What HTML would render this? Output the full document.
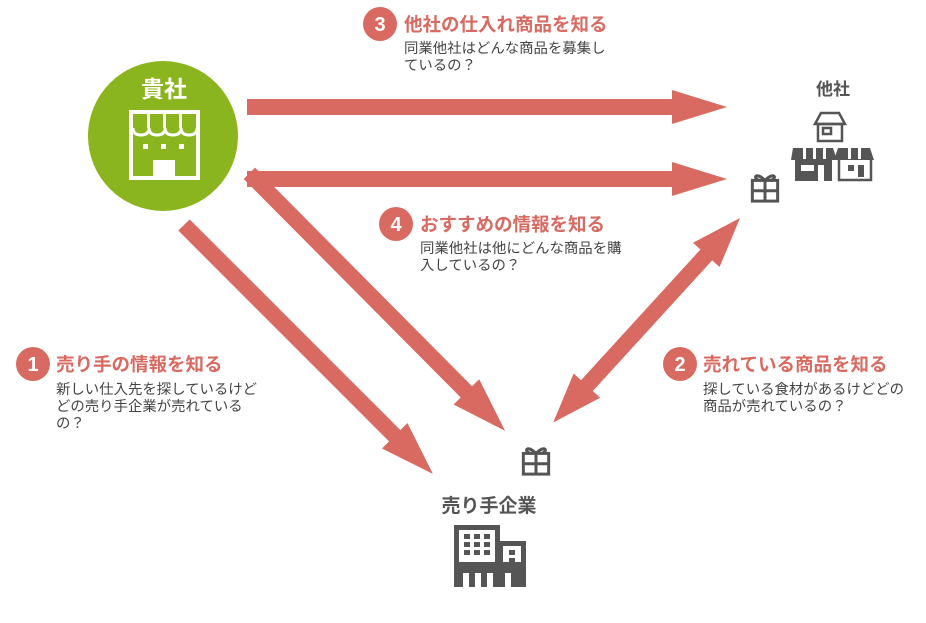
<!DOCTYPE html>
<html><head><meta charset="utf-8"><style>
body{margin:0;background:#fff;width:926px;height:618px;overflow:hidden}
svg text{font-family:"Liberation Sans","Noto Sans CJK JP",sans-serif}
</style></head><body>
<svg width="926" height="618" viewBox="0 0 926 618" xmlns="http://www.w3.org/2000/svg">
<defs>
<g id="gift" fill="none" stroke="#555" stroke-width="2.6">
<rect x="-11" y="-4" width="22" height="18"/>
<line x1="0" y1="-4" x2="0" y2="14"/>
<line x1="-11" y1="5" x2="11" y2="5"/>
<path d="M0 -4 C-8 -12 -11 -6 -5 -4 M0 -4 C8 -12 11 -6 5 -4"/>
</g>
</defs>
<g fill="#d96a61">
<rect x="247" y="99" width="430" height="16"/>
<polygon points="672,90 727,107 672,124"/>
<rect x="247" y="171" width="430" height="16"/>
<polygon points="672,162 727,179 672,196"/>
<g transform="translate(255,179) rotate(45.2)">
<rect x="-8" y="-8" width="310" height="16"/>
<polygon points="300,-18 355,0 300,18"/>
</g>
<g transform="translate(184,225) rotate(45)">
<rect x="0" y="-8" width="300" height="16"/>
<polygon points="298,-18 352,0 298,18"/>
</g>
<g transform="translate(740,218) rotate(132.4)">
<rect x="45" y="-8" width="190" height="16"/>
<polygon points="50,-18 0,0 50,18"/>
<polygon points="227,-18 277,0 227,18"/>
</g>
</g>
<circle cx="163" cy="136" r="75" fill="#8ab51e"/>
<text x="164" y="97" font-size="23" font-weight="bold" fill="#fff" text-anchor="middle">貴社</text>
<g fill="none" stroke="#fff" stroke-width="4">
<rect x="131" y="112" width="67" height="66"/>
<path d="M133 128 q0 7 8 7 q8 0 8 -7 q0 7 8 7 q8 0 8 -7 q0 7 8 7 q8 0 8 -7 q0 7 8 7 q8 0 8 -7" stroke-width="3"/>
</g>
<g fill="#fff">
<rect x="147" y="114" width="3" height="14"/><rect x="163" y="114" width="3" height="14"/><rect x="179" y="114" width="3" height="14"/>
<rect x="143" y="144" width="5" height="5"/><rect x="161" y="144" width="5" height="5"/><rect x="179" y="144" width="5" height="5"/>
<rect x="153" y="160" width="22" height="18"/>
</g>
<text x="833" y="95" font-size="17" font-weight="bold" fill="#555" text-anchor="middle">他社</text>
<g fill="none" stroke="#555" stroke-width="2.5">
<path d="M815 124 l6 -11 h18 l6 11 z"/>
<rect x="818" y="124" width="24" height="17"/>
<rect x="823" y="128" width="8" height="6"/>
<rect x="839" y="158" width="32" height="22"/>
</g>
<g fill="#555">
<path d="M793 148 h40 l4 12 h-46z"/>
<rect x="795" y="160" width="37" height="21"/>
<path d="M838 148 h32 l4 12 h-40z"/>
<rect x="848" y="165" width="6" height="6"/>
<rect x="858" y="165" width="6" height="12"/>
</g>
<g fill="#fff"><rect x="801" y="165" width="13" height="6"/><rect x="818" y="165" width="6" height="16"/>
<rect x="803" y="148" width="3" height="11"/><rect x="813" y="148" width="3" height="11"/><rect x="823" y="148" width="3" height="11"/><rect x="848" y="148" width="3" height="11"/><rect x="858" y="148" width="3" height="11"/></g>
<use href="#gift" transform="translate(765,185) scale(1.15)"/>
<use href="#gift" transform="translate(536,458) scale(1.15)"/>
<text x="489" y="512" font-size="19" font-weight="bold" fill="#555" text-anchor="middle">売り手企業</text>
<g fill="#555"><path d="M454 525 h46 v16 h26 v46 h-72z"/></g>
<g fill="#fff">
<rect x="459" y="530" width="36" height="32"/>
<rect x="503" y="546" width="18" height="16"/>
<rect x="463" y="573" width="6" height="14"/><rect x="475" y="573" width="6" height="14"/><rect x="487" y="573" width="6" height="14"/><rect x="505" y="573" width="6" height="14"/>
</g>
<g fill="#555">
<rect x="464" y="534" width="6" height="5"/><rect x="474" y="534" width="6" height="5"/><rect x="484" y="534" width="6" height="5"/>
<rect x="464" y="542" width="6" height="5"/><rect x="474" y="542" width="6" height="5"/><rect x="484" y="542" width="6" height="5"/>
<rect x="464" y="550" width="6" height="5"/><rect x="474" y="550" width="6" height="5"/><rect x="484" y="550" width="6" height="5"/>
<rect x="509" y="550" width="6" height="5"/><rect x="509" y="558" width="6" height="4"/>
</g>
<g font-size="18.5" font-weight="bold">
<circle cx="380" cy="24" r="17" fill="#d96a61"/><text x="380" y="31" fill="#fff" text-anchor="middle" font-size="20">3</text>
<text x="404" y="31" fill="#d96a61">他社の仕入れ商品を知る</text>
<circle cx="396" cy="224" r="17" fill="#d96a61"/><text x="396" y="231" fill="#fff" text-anchor="middle" font-size="20">4</text>
<text x="420" y="231" fill="#d96a61">おすすめの情報を知る</text>
<circle cx="33" cy="364" r="17" fill="#d96a61"/><text x="33" y="371" fill="#fff" text-anchor="middle" font-size="20">1</text>
<text x="56" y="371" fill="#d96a61">売り手の情報を知る</text>
<circle cx="680" cy="364" r="17" fill="#d96a61"/><text x="680" y="371" fill="#fff" text-anchor="middle" font-size="20">2</text>
<text x="703" y="371" fill="#d96a61">売れている商品を知る</text>
</g>
<g font-size="14.4" fill="#444">
<text x="404" y="53">同業他社はどんな商品を募集し</text><text x="404" y="70">ているの？</text>
<text x="420" y="253">同業他社は他にどんな商品を購</text><text x="420" y="270">入しているの？</text>
<text x="56" y="394">新しい仕入先を探しているけど</text><text x="56" y="411">どの売り手企業が売れている</text><text x="56" y="428">の？</text>
<text x="703" y="394">探している食材があるけどどの</text><text x="703" y="411">商品が売れているの？</text>
</g>
</svg>
</body></html>
